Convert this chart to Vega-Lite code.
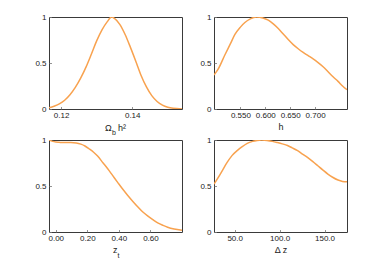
{
  "$schema": "https://vega.github.io/schema/vega-lite/v6.json",
  "padding": {"left": 34, "top": 12, "right": 5, "bottom": 5},
  "background": "white",
  "columns": 2,
  "spacing": {"row": 31, "column": 32},
  "bounds": "flush",
  "datasets": {
    "p1": [
      {"x": 0.1166, "y": 0.012}, {"x": 0.118, "y": 0.03}, {"x": 0.1195, "y": 0.055}, {"x": 0.121, "y": 0.095},
      {"x": 0.1225, "y": 0.155}, {"x": 0.124, "y": 0.235}, {"x": 0.1255, "y": 0.335}, {"x": 0.127, "y": 0.455},
      {"x": 0.1285, "y": 0.595}, {"x": 0.13, "y": 0.74}, {"x": 0.1315, "y": 0.86}, {"x": 0.133, "y": 0.95},
      {"x": 0.1342, "y": 1.0}, {"x": 0.135, "y": 0.985}, {"x": 0.1365, "y": 0.92}, {"x": 0.138, "y": 0.81},
      {"x": 0.1395, "y": 0.67}, {"x": 0.141, "y": 0.52}, {"x": 0.1425, "y": 0.365}, {"x": 0.144, "y": 0.24},
      {"x": 0.1455, "y": 0.145}, {"x": 0.147, "y": 0.082}, {"x": 0.1485, "y": 0.043}, {"x": 0.15, "y": 0.02},
      {"x": 0.1515, "y": 0.008}, {"x": 0.154, "y": 0.001}
    ],
    "p2": [
      {"x": 0.497, "y": 0.37}, {"x": 0.505, "y": 0.43}, {"x": 0.519, "y": 0.59}, {"x": 0.53, "y": 0.71},
      {"x": 0.539, "y": 0.81}, {"x": 0.55, "y": 0.89}, {"x": 0.559, "y": 0.94}, {"x": 0.57, "y": 0.98},
      {"x": 0.582, "y": 1.0}, {"x": 0.595, "y": 0.99}, {"x": 0.606, "y": 0.965}, {"x": 0.616, "y": 0.925},
      {"x": 0.626, "y": 0.875}, {"x": 0.636, "y": 0.815}, {"x": 0.646, "y": 0.755}, {"x": 0.656, "y": 0.70},
      {"x": 0.666, "y": 0.655}, {"x": 0.676, "y": 0.615}, {"x": 0.686, "y": 0.58}, {"x": 0.696, "y": 0.545},
      {"x": 0.706, "y": 0.505}, {"x": 0.716, "y": 0.46}, {"x": 0.726, "y": 0.405}, {"x": 0.736, "y": 0.35},
      {"x": 0.746, "y": 0.30}, {"x": 0.755, "y": 0.25}, {"x": 0.764, "y": 0.21}
    ],
    "p3": [
      {"x": -0.043, "y": 1.0}, {"x": -0.02, "y": 0.985}, {"x": 0.0, "y": 0.978}, {"x": 0.021, "y": 0.975},
      {"x": 0.05, "y": 0.972}, {"x": 0.095, "y": 0.972}, {"x": 0.13, "y": 0.968}, {"x": 0.159, "y": 0.955},
      {"x": 0.185, "y": 0.935}, {"x": 0.211, "y": 0.905}, {"x": 0.238, "y": 0.87}, {"x": 0.265, "y": 0.825},
      {"x": 0.3, "y": 0.75}, {"x": 0.328, "y": 0.69}, {"x": 0.36, "y": 0.615}, {"x": 0.392, "y": 0.54},
      {"x": 0.42, "y": 0.475}, {"x": 0.455, "y": 0.40}, {"x": 0.49, "y": 0.33}, {"x": 0.519, "y": 0.275},
      {"x": 0.55, "y": 0.22}, {"x": 0.582, "y": 0.175}, {"x": 0.615, "y": 0.135}, {"x": 0.646, "y": 0.10},
      {"x": 0.68, "y": 0.072}, {"x": 0.709, "y": 0.052}, {"x": 0.75, "y": 0.033}, {"x": 0.8, "y": 0.02}
    ],
    "p4": [
      {"x": 27, "y": 0.52}, {"x": 34, "y": 0.63}, {"x": 41.6, "y": 0.756}, {"x": 47, "y": 0.83},
      {"x": 52.8, "y": 0.884}, {"x": 58, "y": 0.925}, {"x": 64, "y": 0.964}, {"x": 70, "y": 0.985},
      {"x": 75, "y": 0.995}, {"x": 80, "y": 1.0}, {"x": 86, "y": 0.995}, {"x": 92, "y": 0.985},
      {"x": 97.6, "y": 0.972}, {"x": 103, "y": 0.958}, {"x": 108.8, "y": 0.94}, {"x": 114, "y": 0.915},
      {"x": 120, "y": 0.884}, {"x": 125, "y": 0.85}, {"x": 131, "y": 0.81}, {"x": 137, "y": 0.765},
      {"x": 142.5, "y": 0.72}, {"x": 148, "y": 0.675}, {"x": 153.7, "y": 0.63}, {"x": 159, "y": 0.595},
      {"x": 165, "y": 0.565}, {"x": 170, "y": 0.55}, {"x": 175, "y": 0.545}
    ]
  },
  "concat": [
    {
      "width": 133, "height": 92,
      "data": {"name": "p1"},
      "layer": [
        {
          "mark": {"type": "line", "color": "#f8a24f", "strokeWidth": 1.5, "interpolate": "monotone", "clip": true},
          "encoding": {
            "x": {"field": "x", "type": "quantitative", "scale": {"domain": [0.1166, 0.154], "nice": false, "zero": false},
                  "axis": {"values": [0.12, 0.14], "format": ".2f", "title": "Ω", "titleAlign": "left", "titleX": 55.5, "titleY": 14}},
            "y": {"field": "y", "type": "quantitative", "scale": {"domain": [0, 1], "nice": false},
                  "axis": {"values": [0, 0.5, 1], "format": "~g", "title": null}}
          }
        },
        {
          "mark": {"type": "line", "strokeOpacity": 0, "clip": true},
          "encoding": {
            "x": {"field": "x", "type": "quantitative",
                  "axis": {"orient": "bottom", "labels": false, "ticks": false, "domain": false, "title": "b", "titleFontSize": 7, "titleAlign": "left", "titleX": 62.5, "titleY": 19.5}},
            "y": {"field": "y", "type": "quantitative", "axis": {"values": [0, 0.5, 1], "format": "~g", "title": null}}
          }
        },
        {
          "mark": {"type": "line", "strokeOpacity": 0, "clip": true},
          "encoding": {
            "x": {"field": "x", "type": "quantitative",
                  "axis": {"orient": "bottom", "labels": false, "ticks": false, "domain": false, "title": "h²", "titleAlign": "left", "titleX": 68.5, "titleY": 14}},
            "y": {"field": "y", "type": "quantitative", "axis": {"values": [0, 0.5, 1], "format": "~g", "title": null}}
          }
        }
      ],
      "resolve": {"axis": {"x": "independent"}}
    },
    {
      "width": 133, "height": 92,
      "data": {"name": "p2"},
      "mark": {"type": "line", "color": "#f8a24f", "strokeWidth": 1.5, "interpolate": "monotone", "clip": true},
      "encoding": {
        "x": {"field": "x", "type": "quantitative", "scale": {"domain": [0.497, 0.764], "nice": false, "zero": false},
              "axis": {"values": [0.55, 0.6, 0.65, 0.7], "format": ".3f", "title": "h"}},
        "y": {"field": "y", "type": "quantitative", "scale": {"domain": [0, 1], "nice": false},
              "axis": {"values": [0, 0.5, 1], "format": "~g", "title": null}}
      }
    },
    {
      "width": 133, "height": 92,
      "data": {"name": "p3"},
      "layer": [
        {
          "mark": {"type": "line", "color": "#f8a24f", "strokeWidth": 1.5, "interpolate": "monotone", "clip": true},
          "encoding": {
            "x": {"field": "x", "type": "quantitative", "scale": {"domain": [-0.043, 0.8], "nice": false, "zero": false},
                  "axis": {"values": [0, 0.2, 0.4, 0.6], "format": ".2f", "title": "z", "titleAlign": "left", "titleX": 63.5}},
            "y": {"field": "y", "type": "quantitative", "scale": {"domain": [0, 1], "nice": false},
                  "axis": {"values": [0, 0.5, 1], "format": "~g", "title": null}}
          }
        },
        {
          "mark": {"type": "line", "strokeOpacity": 0, "clip": true},
          "encoding": {
            "x": {"field": "x", "type": "quantitative",
                  "axis": {"orient": "bottom", "labels": false, "ticks": false, "domain": false, "title": "t", "titleFontSize": 7, "titleAlign": "left", "titleX": 68, "titleY": 19}},
            "y": {"field": "y", "type": "quantitative", "axis": {"values": [0, 0.5, 1], "format": "~g", "title": null}}
          }
        }
      ],
      "resolve": {"axis": {"x": "independent"}}
    },
    {
      "width": 133, "height": 92,
      "data": {"name": "p4"},
      "mark": {"type": "line", "color": "#f8a24f", "strokeWidth": 1.5, "interpolate": "monotone", "clip": true},
      "encoding": {
        "x": {"field": "x", "type": "quantitative", "scale": {"domain": [27, 175], "nice": false, "zero": false},
              "axis": {"values": [50, 100, 150], "format": ".1f", "title": "Δ z"}},
        "y": {"field": "y", "type": "quantitative", "scale": {"domain": [0, 1], "nice": false},
              "axis": {"values": [0, 0.5, 1], "format": "~g", "title": null}}
      }
    }
  ],
  "config": {
    "view": {"stroke": "#3a3a3a", "strokeWidth": 1},
    "axis": {
      "domain": false, "ticks": true, "tickSize": -2.5, "tickColor": "#777", "tickWidth": 0.8, "grid": false,
      "labelFont": "Liberation Sans", "labelFontSize": 8, "labelColor": "#222", "labelPadding": 5.5,
      "labelOverlap": false, "labelFlush": false,
      "titleFont": "Liberation Sans", "titleFontSize": 9, "titleFontWeight": "normal", "titleColor": "#222", "titlePadding": 3
    },
    "axisX": {"labelPadding": 4.5}
  }
}
